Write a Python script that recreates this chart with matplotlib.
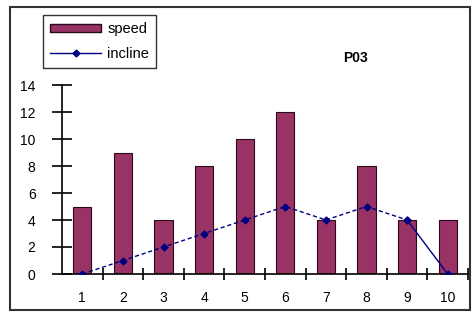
import matplotlib
matplotlib.use("Agg")
import matplotlib.pyplot as plt
from matplotlib.patches import Rectangle
from matplotlib.lines import Line2D

categories = [1, 2, 3, 4, 5, 6, 7, 8, 9, 10]
speed = [5, 9, 4, 8, 10, 12, 4, 8, 4, 4]
incline = [0, 1, 2, 3, 4, 5, 4, 5, 4, 0]
yticks = [0, 2, 4, 6, 8, 10, 12, 14]
title = "P03"

plt.rcParams['font.family'] = ['Liberation Sans', 'DejaVu Sans']

fig = plt.figure(figsize=(4.73, 3.14), dpi=100)
ax = fig.add_axes([62/473, 1-274/314, (468-62)/473, (274-85)/314])

bar_color = '#993366'
line_color = '#000080'
ax.bar(categories, speed, width=0.45, color=bar_color, edgecolor='#2a0a18', linewidth=0.8, zorder=2)
ax.plot(categories[:-1], incline[:-1], color=line_color, linestyle=(0, (3, 2)), linewidth=1.0,
        marker='D', markersize=3.5, zorder=3)
ax.plot(categories[-2:], incline[-2:], color=line_color, linestyle='-', linewidth=1.0,
        marker='D', markersize=3.5, zorder=3)

ax.set_xlim(0.5, 10.5)
ax.set_ylim(0, 14)
ax.set_yticks(yticks)
ax.set_yticklabels([str(v) for v in yticks], fontsize=10)
ax.set_xticks([c + 0.5 for c in categories])
ax.set_xticklabels([])
ax.set_xticks(categories, minor=True)
ax.set_xticklabels([str(c) for c in categories], minor=True, fontsize=10)
ax.tick_params(axis='x', which='major', direction='inout', length=8, width=1.2, color='black')
ax.tick_params(axis='x', which='minor', length=0, pad=12)
ax.tick_params(axis='y', direction='inout', length=14, width=1.2, pad=12)
for s in ['top', 'right']:
    ax.spines[s].set_visible(False)
for s in ['left', 'bottom']:
    ax.spines[s].set_linewidth(1.2)

fig.text(355/473, 1-58/314, title, ha='center', va='center', fontsize=10, fontweight='bold')

handles = [Rectangle((0, 0), 1, 1, facecolor=bar_color, edgecolor='#2a0a18'),
           Line2D([0], [0], color=line_color, marker='D', markersize=3.5, linewidth=1.0)]
leg = fig.legend(handles, ['speed', 'incline'], loc='upper left',
                 bbox_to_anchor=(43/473, 1-15/314), fontsize=10.5, frameon=True,
                 fancybox=False, handlelength=3.5, handleheight=0.5, borderpad=0.5,
                 labelspacing=0.7, handletextpad=0.4, borderaxespad=0)
leg.get_frame().set_edgecolor('black')
leg.get_frame().set_linewidth(1.0)

fig.patches.append(Rectangle((10/473, 1-310/314), 460/473, 303/314, transform=fig.transFigure,
                             fill=False, edgecolor='#333333', linewidth=1.5))

fig.savefig('out.png', dpi=100)
